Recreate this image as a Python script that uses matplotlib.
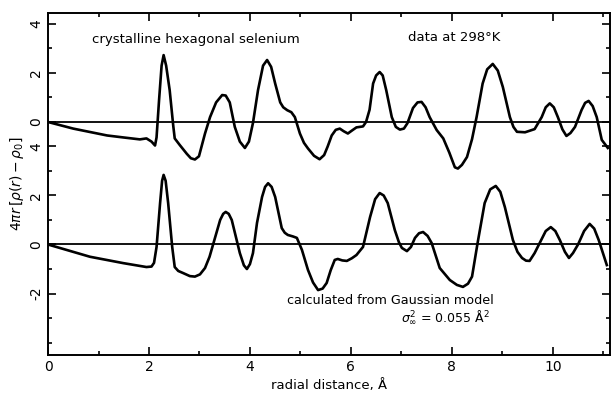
import numpy as np
import matplotlib.pyplot as plt

# measured curve, data at 298 K (drawn with an offset of 5)
r_exp = [0.0, 0.5, 1.17, 1.49, 1.82, 1.95, 2.05, 2.12, 2.15, 2.2, 2.25, 2.29, 2.34, 2.41,
         2.48, 2.51, 2.61, 2.75, 2.83, 2.91, 2.99, 3.11, 3.21, 3.33, 3.45, 3.52, 3.6,
         3.7, 3.8, 3.9, 3.98, 4.06, 4.16, 4.26, 4.34, 4.42, 4.5, 4.6, 4.66, 4.74, 4.82,
         4.89, 4.99, 5.07, 5.15, 5.27, 5.38, 5.47, 5.54, 5.62, 5.7, 5.78, 5.86, 5.94,
         6.02, 6.11, 6.24, 6.3, 6.37, 6.44, 6.5, 6.57, 6.63, 6.7, 6.81, 6.89, 6.97,
         7.05, 7.12, 7.23, 7.32, 7.4, 7.48, 7.56, 7.7, 7.83, 7.95, 8.06, 8.12, 8.2,
         8.3, 8.4, 8.49, 8.61, 8.7, 8.81, 8.91, 9.01, 9.15, 9.22, 9.29, 9.45, 9.64,
         9.78, 9.86, 9.94, 10.02, 10.1, 10.19, 10.27, 10.35, 10.44, 10.57, 10.64,
         10.71, 10.79, 10.87, 10.97, 11.09]
g_exp = [0.0, -0.27, -0.55, -0.63, -0.71, -0.67, -0.8, -0.96, -0.63, 0.9, 2.3, 2.73,
         2.3, 1.3, -0.14, -0.67, -0.94, -1.3, -1.48, -1.53, -1.4, -0.47, 0.2, 0.8, 1.1,
         1.08, 0.8, -0.2, -0.8, -1.06, -0.8, -0.04, 1.3, 2.3, 2.53, 2.25, 1.57, 0.8,
         0.6, 0.48, 0.4, 0.2, -0.47, -0.85, -1.08, -1.38, -1.52, -1.35, -1.0, -0.55,
         -0.32, -0.27, -0.38, -0.47, -0.35, -0.22, -0.18, 0.0, 0.5, 1.57, 1.9, 2.04,
         1.9, 1.3, 0.2, -0.2, -0.31, -0.27, -0.05, 0.57, 0.8, 0.82, 0.6, 0.2, -0.33,
         -0.67, -1.25, -1.85, -1.9, -1.75, -1.43, -0.7, 0.2, 1.57, 2.15, 2.37, 2.1,
         1.43, 0.2, -0.2, -0.4, -0.42, -0.29, 0.2, 0.6, 0.76, 0.6, 0.2, -0.3, -0.57,
         -0.45, -0.2, 0.49, 0.78, 0.86, 0.65, 0.2, -0.73, -1.06]

# calculated from Gaussian model
r_calc = [0.0, 0.83, 1.49, 1.95, 2.05, 2.1, 2.15, 2.22, 2.26, 2.29, 2.33, 2.38, 2.46,
          2.51, 2.58, 2.67, 2.81, 2.91, 3.01, 3.11, 3.2, 3.27, 3.41, 3.47, 3.52, 3.58,
          3.64, 3.8, 3.88, 3.94, 4.0, 4.06, 4.14, 4.24, 4.3, 4.36, 4.43, 4.5, 4.63,
          4.69, 4.75, 4.85, 4.93, 5.03, 5.15, 5.25, 5.35, 5.44, 5.52, 5.6, 5.68, 5.74,
          5.83, 5.92, 6.02, 6.11, 6.24, 6.38, 6.48, 6.57, 6.65, 6.73, 6.87, 6.95, 7.01,
          7.11, 7.19, 7.27, 7.35, 7.43, 7.52, 7.6, 7.76, 7.96, 8.1, 8.22, 8.32, 8.4,
          8.51, 8.65, 8.76, 8.87, 8.96, 9.05, 9.21, 9.3, 9.39, 9.47, 9.54, 9.64, 9.74,
          9.86, 9.96, 10.05, 10.14, 10.24, 10.32, 10.4, 10.5, 10.62, 10.73, 10.82,
          10.91, 11.07]
g_calc = [0.0, -0.5, -0.76, -0.92, -0.9, -0.75, -0.1, 1.69, 2.6, 2.84, 2.6, 1.69, -0.1,
          -0.92, -1.08, -1.16, -1.29, -1.31, -1.22, -0.96, -0.5, 0.0, 1.0, 1.25, 1.33,
          1.25, 1.0, -0.35, -0.85, -1.0, -0.8, -0.35, 0.88, 1.94, 2.35, 2.5, 2.35,
          1.94, 0.67, 0.48, 0.39, 0.33, 0.27, -0.22, -1.04, -1.55, -1.86, -1.8, -1.57,
          -1.05, -0.63, -0.59, -0.65, -0.67, -0.56, -0.43, -0.1, 1.12, 1.85, 2.1, 2.0,
          1.69, 0.59, 0.1, -0.14, -0.27, -0.1, 0.27, 0.46, 0.51, 0.35, 0.06, -0.96,
          -1.45, -1.65, -1.73, -1.6, -1.31, 0.06, 1.69, 2.25, 2.39, 2.15, 1.53, 0.18,
          -0.3, -0.55, -0.66, -0.67, -0.35, 0.06, 0.55, 0.71, 0.55, 0.18, -0.3, -0.55,
          -0.35, 0.0, 0.55, 0.84, 0.65, 0.18, -0.84]

offset = 5
ytick_pos = [-2, 0, 2, 4, 5, 7, 9]
ytick_lab = ['-2', '0', '2', '4', '0', '2', '4']

fig = plt.figure(figsize=(6.11, 3.93), dpi=100)
ax = fig.add_axes([0.0786, 0.0967, 0.9195, 0.8703])

ax.axhline(0, color='black', lw=1.3)
ax.axhline(offset, color='black', lw=1.3)
ax.plot(r_exp, np.array(g_exp) + offset, color='black', lw=1.9,
        solid_joinstyle='round')
ax.plot(r_calc, g_calc, color='black', lw=1.9, solid_joinstyle='round')

ax.set_xlim(0, 11.13)
ax.set_ylim(-4.51, 9.45)
ax.set_xticks(range(0, 11, 2))
ax.set_xticks(range(1, 12, 2), minor=True)
ax.set_yticks(ytick_pos)
ax.set_yticklabels(ytick_lab, rotation=90, va='center')
ax.set_yticks(range(-4, 10), minor=True)
ax.tick_params(which='both', direction='in', top=True, right=True, width=1.2)
ax.tick_params(which='major', length=6, labelsize=10)
ax.tick_params(which='minor', length=3)
for s in ax.spines.values():
    s.set_linewidth(1.4)

ax.set_xlabel('radial distance, Å', fontsize=9.5, labelpad=4)
ax.set_ylabel(r'$4\pi r\,[\rho(r)-\rho_0]$', fontsize=10, labelpad=2)

ax.text(0.87, 8.35, 'crystalline hexagonal selenium', fontsize=9.5, va='center')
ax.text(7.13, 8.43, 'data at 298°K', fontsize=9.5, va='center')
ax.text(4.73, -2.3, 'calculated from Gaussian model', fontsize=9.2, va='center')
ax.text(8.75, -2.98, r'$\sigma_\infty^2$ = 0.055 Å$^2$', fontsize=9,
        va='center', ha='right')

plt.savefig('out.png', dpi=100)
